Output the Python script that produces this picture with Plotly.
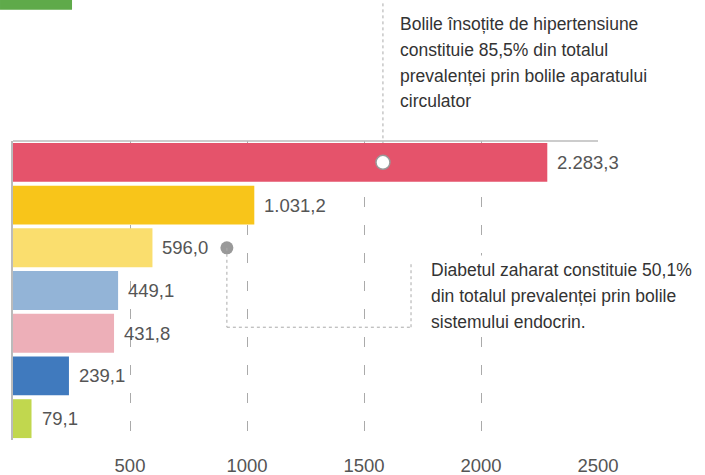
import plotly.graph_objects as go

# ---- data ----
values = [2283.3, 1031.2, 596.0, 449.1, 431.8, 239.1, 79.1]
colors = ["#E5536B", "#F8C51A", "#FADE6E", "#93B4D7", "#EDAFB8", "#407ABE", "#C1D74E"]
tick_vals = [500, 1000, 1500, 2000, 2500]
tick_text = ["500", "1000", "1500", "2000", "2500"]
note1_lines = ["Bolile însoțite de hipertensiune",
               "constituie 85,5% din totalul",
               "prevalenței prin bolile aparatului",
               "circulator"]
note2_lines = ["Diabetul zaharat constituie 50,1%",
               "din totalul prevalenței prin bolile",
               "sistemului endocrin."]
note1_x = 1581   # marker on bar 0
note2_x = 914    # marker next to bar 2

def fmt(v):
    s = f"{v:,.1f}"
    return s.replace(",", "X").replace(".", ",").replace("X", ".")

cats = list(range(len(values)))
NUM_FONT = "Liberation Sans, Arial, sans-serif"
TXT_FONT = "Liberation Sans, Arial, sans-serif"

fig = go.Figure()
fig.add_trace(go.Bar(
    x=values, y=cats, orientation="h", width=0.91,
    marker=dict(color=colors, line=dict(width=0)),
    hoverinfo="skip", showlegend=False,
))

# markers
fig.add_trace(go.Scatter(
    x=[note1_x], y=[0], mode="markers",
    marker=dict(size=14, color="white", line=dict(color="#999999", width=1.5)),
    showlegend=False, hoverinfo="skip", cliponaxis=False,
))
fig.add_trace(go.Scatter(
    x=[note2_x], y=[2], mode="markers",
    marker=dict(size=13, color="#999999", line=dict(width=0)),
    showlegend=False, hoverinfo="skip", cliponaxis=False,
))

annotations = []
for i, v in enumerate(values):
    annotations.append(dict(
        x=v, y=i, xref="x", yref="y", text=fmt(v), showarrow=False,
        xanchor="left", yanchor="middle", xshift=8,
        font=dict(family=NUM_FONT, size=18.5, color="#555555"),
    ))

note1_y = [1.3925, 1.3057, 1.219, 1.1322]      # paper coords
for line, yy in zip(note1_lines, note1_y):
    annotations.append(dict(
        x=1647, xref="x", y=yy, yref="paper", text=line, showarrow=False,
        xanchor="left", yanchor="middle", align="left",
        font=dict(family=TXT_FONT, size=17.5, color="#333333"),
    ))
note2_y = [2.526, 3.133, 3.741]                  # category coords
for line, yy in zip(note2_lines, note2_y):
    annotations.append(dict(
        x=1766, xref="x", y=yy, yref="y", text=line, showarrow=False,
        xanchor="left", yanchor="middle", align="left",
        bgcolor="white", borderpad=4,
        font=dict(family=TXT_FONT, size=17.5, color="#333333"),
    ))

dot = dict(color="#AAAAAA", width=1, dash="dot")
shapes = [
    # top border line
    dict(type="line", xref="paper", yref="paper", x0=0, x1=1, y0=1, y1=1,
         line=dict(color="#BBBBBB", width=1.5)),
    # callout 1 vertical
    dict(type="line", xref="x", yref="paper", x0=note1_x, x1=note1_x,
         y0=1 - 0.5 / 7, y1=1.47, line=dot, layer="below"),
    # callout 2 bracket
    dict(type="line", xref="x", yref="y", x0=note2_x, x1=note2_x, y0=2, y1=3.86, line=dot),
    dict(type="line", xref="x", yref="y", x0=note2_x, x1=1701, y0=3.86, y1=3.86, line=dot),
    dict(type="line", xref="x", yref="y", x0=1701, x1=1701, y0=3.86, y1=2.36, line=dot),
    # green header box (partially visible)
    dict(type="rect", xref="paper", yref="paper", x0=-0.0222, x1=0.1009, y0=1.439, y1=1.5,
         fillcolor="#5FAA4A", line=dict(width=0)),
]

fig.update_layout(
    width=705, height=475,
    margin=dict(l=13, r=107, t=141, b=35, pad=0, autoexpand=False),
    paper_bgcolor="white", plot_bgcolor="white",
    separators=",.",
    xaxis=dict(
        range=[0, 2500], tickvals=tick_vals, ticktext=tick_text,
        showgrid=True, gridcolor="#AAAAAA", gridwidth=1, griddash="10px,18px",
        zeroline=False, showline=False, ticks="", automargin=False,
        tickfont=dict(family=NUM_FONT, size=18.5, color="#555555"),
        ticklabelstandoff=12, fixedrange=True,
    ),
    yaxis=dict(
        range=[6.5, -0.5], showticklabels=False, showgrid=False, zeroline=False,
        showline=True, linecolor="#BBBBBB", linewidth=1.5, ticks="",
        fixedrange=True, automargin=False,
    ),
    annotations=annotations,
    shapes=shapes,
    bargap=0.09,
)

fig.write_html(
    "out.html",
    config={"displayModeBar": False},
    post_script="document.body.style.margin='0';document.body.style.padding='0';",
)
